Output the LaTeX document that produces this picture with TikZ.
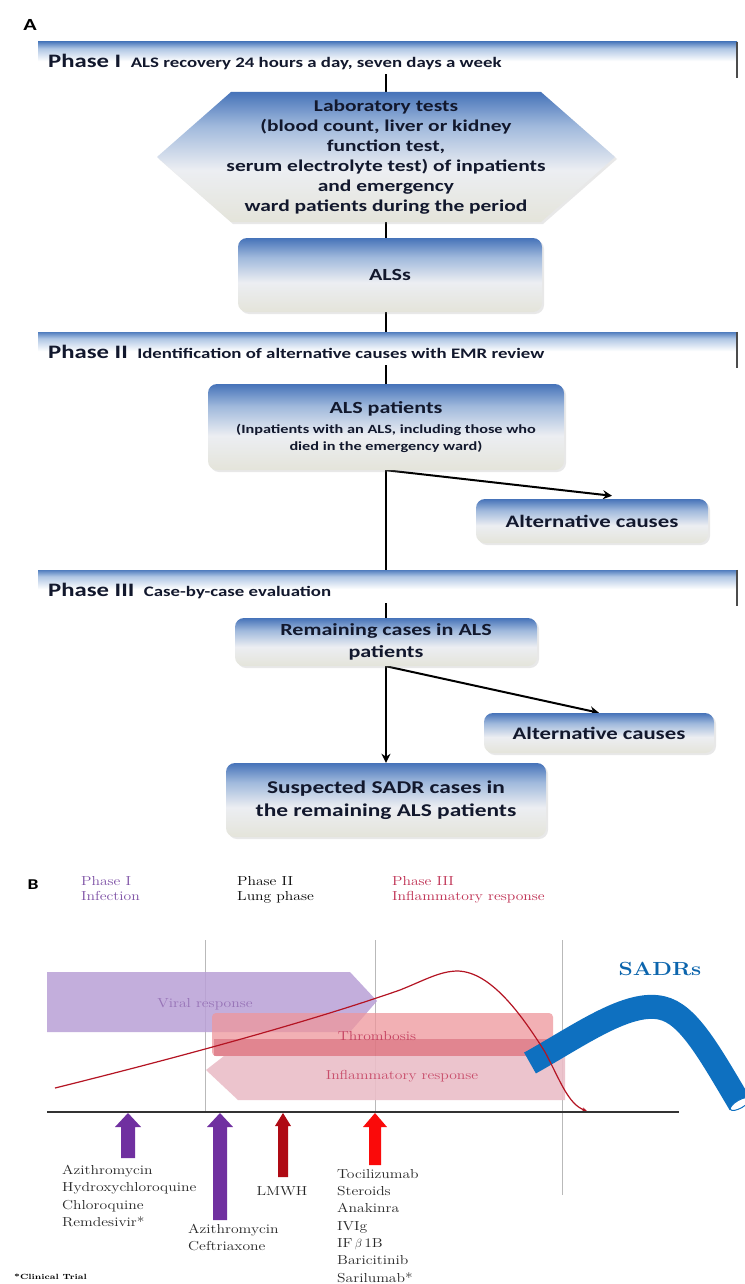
\documentclass[tikz,border=0pt]{standalone}
\usepackage{fontspec}
\setmainfont{Carlito}[FakeStretch=1.3]
\newfontfamily\bser{Latin Modern Roman}[FakeStretch=1.2]
\usetikzlibrary{arrows.meta,calc,shadows}
\pgfdeclarelayer{back}
\pgfdeclarelayer{bg}
\pgfsetlayers{back,bg,main}
\definecolor{bxtop}{RGB}{70,115,185}
\definecolor{bxmid}{RGB}{160,185,220}
\definecolor{bxlow}{RGB}{236,238,242}
\definecolor{bxbot}{RGB}{228,228,218}
\definecolor{bartop}{RGB}{80,125,190}
\definecolor{barmid}{RGB}{175,198,228}
\definecolor{txt}{RGB}{18,24,45}
\definecolor{ppl}{RGB}{125,80,165}
\definecolor{crim}{RGB}{190,45,80}
\definecolor{viral}{RGB}{185,160,215}
\definecolor{thromb}{RGB}{238,150,155}
\definecolor{thband}{RGB}{215,105,120}
\definecolor{infl}{RGB}{235,190,200}
\definecolor{curve}{RGB}{180,20,35}
\definecolor{sadr}{RGB}{14,112,192}
\definecolor{arrp}{RGB}{112,48,160}
\definecolor{arrd}{RGB}{175,10,20}
\definecolor{arrr}{RGB}{250,10,10}
\pgfdeclareverticalshading{boxsh}{100bp}{color(0bp)=(bxbot); color(25bp)=(bxbot); color(45bp)=(bxlow); color(62bp)=(bxmid); color(75bp)=(bxtop); color(100bp)=(bxtop)}
\pgfdeclareverticalshading{barsh}{100bp}{color(0bp)=(white); color(25bp)=(white); color(45bp)=(white); color(65bp)=(barmid); color(75bp)=(bartop); color(100bp)=(bartop)}
\begin{document}
\begin{tikzpicture}[x=1pt,y=-1pt,
  flowbox/.style={shading=boxsh, rounded corners=9pt, align=center, text=txt, inner sep=0pt,
     drop shadow={opacity=0.18, shadow xshift=2pt, shadow yshift=-2pt}},
  hextext/.style={align=center, text=txt, inner sep=0pt},
  phasebar/.style={shading=barsh, inner sep=0pt, minimum width=699pt, minimum height=32pt},
  phasetxt/.style={anchor=base west, text=txt, inner sep=0pt},
  conn/.style={line width=2pt, black},
  arr/.style={conn, -{Stealth[length=9pt,width=9pt]}},
  btxt/.style={inner sep=0pt, font=\bser\fontsize{13}{17.3}\selectfont},
  ptxt/.style={inner sep=0pt, font=\bser\fontsize{13}{15}\selectfont},
  gline/.style={draw=gray!55, line width=0.8pt}]
\begin{pgfonlayer}{back}
\fill[white] (0,0) rectangle (744,1284);
\end{pgfonlayer}
\useasboundingbox (0,0) rectangle (744,1284);

% ---------------- Panel A ----------------
\node[inner sep=0pt, font=\bfseries\fontsize{17}{20}\selectfont] (labA) at (30,25) {A};

% phase bars
\node[phasebar] (ph1) at (387.5,58) {};
\draw[gray!60!black, line width=1.5pt] (ph1.north east) -- ++(0,36);
\node[phasetxt] (ph1t) at (48,68) {\bfseries\fontsize{19}{22}\selectfont Phase I\enspace{\fontsize{14.5}{17}\selectfont ALS recovery 24 hours a day, seven days a week}};

\node[phasebar] (ph2) at (387.5,348) {};
\draw[gray!60!black, line width=1.5pt] (ph2.north east) -- ++(0,36);
\node[phasetxt] (ph2t) at (48,358) {\bfseries\fontsize{19}{22}\selectfont Phase II\enspace{\fontsize{14.5}{17}\selectfont Identification of alternative causes with EMR review}};

\node[phasebar] (ph3) at (387.5,586) {};
\draw[gray!60!black, line width=1.5pt] (ph3.north east) -- ++(0,36);
\node[phasetxt] (ph3t) at (48,596) {\bfseries\fontsize{19}{22}\selectfont Phase III\enspace{\fontsize{14.5}{17}\selectfont Case-by-case evaluation}};

% hexagon
\path[shading=boxsh, drop shadow={opacity=0.18, shadow xshift=2pt, shadow yshift=-2pt}]
  (231,92) -- (541,92) -- (615,157) -- (541,222) -- (231,222) -- (157,157) -- cycle;
\node[hextext, minimum height=130pt, font=\bfseries\fontsize{16.5}{20}\selectfont] (hex) at (386,157)
  {Laboratory tests\\(blood count, liver or kidney\\function test,\\serum electrolyte test) of inpatients\\and emergency\\ward patients during the period};

\node[flowbox, minimum width=304pt, minimum height=74pt, font=\bfseries\fontsize{17}{20}\selectfont] (alss) at (390,275) {ALSs};

\node[flowbox, minimum width=356pt, minimum height=86pt, font=\bfseries\fontsize{12.5}{17}\selectfont] (alspat) at (386,427)
  {{\fontsize{17}{20}\selectfont ALS patients}\\[3pt]
   (Inpatients with an ALS, including those who\\
   died in the emergency ward)};

\node[flowbox, minimum width=232pt, minimum height=44pt, font=\bfseries\fontsize{17.5}{20}\selectfont] (alt1) at (592,521) {Alternative causes};

\node[flowbox, minimum width=302pt, minimum height=48pt, font=\bfseries\fontsize{17}{22}\selectfont] (remain) at (386,642)
  {Remaining cases in ALS\\patients};

\node[flowbox, minimum width=230pt, minimum height=40pt, font=\bfseries\fontsize{17.5}{20}\selectfont] (alt2) at (599,733) {Alternative causes};

\node[flowbox, minimum width=320pt, minimum height=74pt, font=\bfseries\fontsize{18}{23}\selectfont] (susp) at (386,800)
  {Suspected SADR cases in\\the remaining  ALS patients};

\begin{pgfonlayer}{bg}
\draw[conn] (ph1.south -| hex.north) -- (hex.north);
\draw[conn] (hex.south) -- (hex.south |- alss.north);
\draw[conn] (hex.south |- alss.south) -- (alspat.north);
\draw[conn] (alspat.south) -- (remain.north);
\coordinate (alt1in) at ($(alt1.north)+(20,-3)$);
\draw[arr] (alspat.south) -- (alt1in);
\draw[arr] (remain.south) -- (susp.north);
\draw[arr] (remain.south) -- (alt2.north);
\end{pgfonlayer}

% ---------------- Panel B ----------------
\node[inner sep=0pt, font=\bfseries\fontsize{15}{18}\selectfont] (labB) at (33,885) {B};
\node[ptxt, anchor=north west, align=left, text=ppl] (bp1) at (81,876) {Phase I\\Infection};
\node[ptxt, anchor=north west, align=left, text=black] (bp2) at (237,876) {Phase II\\Lung phase};
\node[ptxt, anchor=north west, align=left, text=crim] (bp3) at (392,876) {Phase III\\Inflammatory response};

% vertical phase lines
\draw[gline] (205,940) -- (205,1112);
\draw[gline] (375,940) -- (375,1112);
\draw[gline] (562,940) -- (562,1195);

% bands
\fill[viral, opacity=0.85] (47,972) -- (350,972) -- (377,1001) -- (350,1032) -- (47,1032) -- cycle;
\fill[thromb, opacity=0.75, rounded corners=4pt] (212,1013) rectangle (553,1056);
\fill[thband, opacity=0.6] (214,1039) rectangle (553,1056);
\fill[infl, opacity=0.9] (224,1056) -- (565,1056) -- (565,1100) -- (238,1100) -- (206,1070) -- cycle;
\node[btxt, text=ppl!80] (tviral) at (205,1004) {Viral response};
\node[btxt, text=crim!90] (tthromb) at (377,1036) {Thrombosis};
\node[btxt, text=crim!85] (tinfl) at (402,1076) {Inflammatory response};

% SADRs tube
\draw[sadr, line width=24pt] (530,1063) .. controls (580,1035) and (628,1000) .. (662,1008)
   .. controls (688,1014) and (708,1050) .. (740,1104);
\fill[white, draw=sadr, line width=1pt, rotate around={30:(740,1104)}] (740,1104) ellipse (11pt and 4pt);
\node[inner sep=0pt, text=sadr!90!black, font=\bser\bfseries\fontsize{19}{24}\selectfont] (tsadr) at (660,969) {SADRs};

% curve
\draw[curve, line width=1.2pt, -{Stealth[length=5pt,width=4pt]}]
  (55,1088) .. controls (200,1052) and (320,1018) .. (400,990)
  .. controls (425,980) and (440,971) .. (458,971)
  .. controls (490,972) and (520,1012) .. (545,1052)
  .. controls (560,1080) and (568,1104) .. (587,1111);

% axis
\draw[line width=2pt, black!80] (47,1112) -- (679,1112);

% block arrows
\fill[arrp] (128,1113) -- (141,1127) -- (135,1127) -- (135,1158) -- (121,1158) -- (121,1127) -- (115,1127) -- cycle;
\fill[arrp] (220,1113) -- (233,1127) -- (227,1127) -- (227,1220) -- (213,1220) -- (213,1127) -- (207,1127) -- cycle;
\fill[arrd] (283,1113) -- (291,1126) -- (288,1126) -- (288,1177) -- (278,1177) -- (278,1126) -- (275,1126) -- cycle;
\fill[arrr] (375,1113) -- (387,1127) -- (381,1127) -- (381,1165) -- (369,1165) -- (369,1127) -- (363,1127) -- cycle;

% drug lists
\node[btxt, anchor=north west, align=left, text=black!85] (d1) at (62,1165)
  {Azithromycin\\Hydroxychloroquine\\Chloroquine\\Remdesivir*};
\node[btxt, text=black!85] (d2) at (282,1191) {LMWH};
\node[btxt, anchor=north west, align=left, text=black!85] (d3) at (188,1224)
  {Azithromycin\\Ceftriaxone};
\node[btxt, anchor=north west, align=left, text=black!85] (d4) at (337,1169)
  {Tocilizumab\\Steroids\\Anakinra\\IVIg\\IF\,$\beta$\,1B\\Baricitinib\\Sarilumab*};
\node[inner sep=0pt, anchor=west, font=\bser\bfseries\fontsize{7.5}{9}\selectfont] (foot) at (14,1277) {*Clinical Trial};
\end{tikzpicture}
\end{document}
